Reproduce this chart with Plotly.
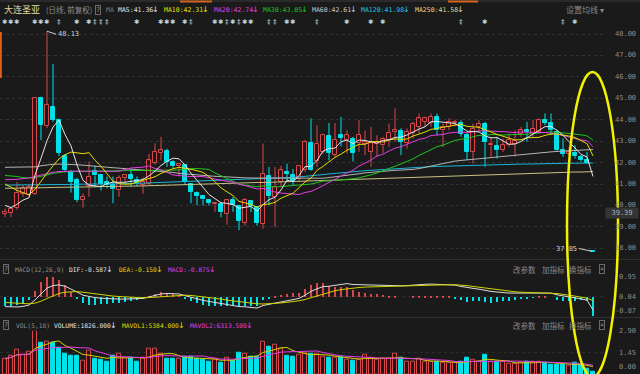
import plotly.graph_objects as go
import pandas as pd

W, H = 640, 374
BG = "#1a1a1a"
RED = "#d8474b"
CYAN = "#00e2ea"
C_MA5 = "#e4e4e4"
C_MA10 = "#e2dc00"
C_MA20 = "#e23ee2"
C_MA30 = "#1fc41f"
C_MA60 = "#b4b4b4"
C_MA120 = "#1ab4d8"
C_MA250 = "#c8c080"
MONO = "DejaVu Sans Mono"
CJK = "Noto Sans CJK SC"

# ---------------- data ----------------
opens = [39.60, 39.65, 39.90, 40.55, 40.50, 40.55, 45.00, 43.70, 44.60, 44.00,
         42.30, 41.55, 41.20, 40.25, 40.90, 41.60, 41.40, 41.10, 40.95, 40.70,
         41.30, 41.40, 41.20, 40.95, 41.00, 42.00, 42.47, 42.53, 42.03, 41.85,
         41.87, 40.99, 40.60, 40.43, 40.25, 40.05, 40.08, 39.58, 40.27, 39.96,
         39.18, 40.21, 39.93, 39.15, 41.36, 40.40, 41.10, 41.55, 41.41, 41.25,
         41.64, 42.93, 42.08, 42.50, 43.23, 42.35, 43.28, 43.05, 43.12, 42.90,
         42.85, 42.50, 42.88, 42.80, 43.05, 43.45, 43.48, 42.90, 43.38, 43.67,
         43.90, 43.86, 44.14, 43.50, 43.67, 43.85, 43.85, 43.28, 42.50, 43.67,
         43.82, 42.80, 42.76, 42.58, 42.80, 42.85, 43.35, 43.51, 43.35, 43.43,
         43.98, 43.85, 43.43, 42.58, 42.42, 42.45, 42.27, 42.14, 37.85]
highs = [39.85, 39.95, 41.10, 40.95, 41.00, 45.00, 45.07, 48.13, 46.60, 44.05,
         42.40, 41.65, 41.30, 40.55, 42.05, 41.85, 41.45, 41.35, 41.35, 41.40,
         41.40, 41.70, 41.35, 41.30, 42.40, 42.90, 43.20, 42.65, 42.10, 42.00,
         41.90, 41.00, 40.65, 40.45, 40.30, 40.15, 40.10, 40.30, 40.40, 39.98,
         40.35, 40.25, 39.95, 42.89, 41.80, 41.80, 41.85, 41.95, 41.70, 41.88,
         43.05, 44.06, 43.74, 43.35, 43.85, 43.85, 44.13, 43.50, 43.20, 43.98,
         43.50, 43.67, 43.28, 43.20, 43.82, 44.53, 43.60, 43.60, 43.90, 44.29,
         44.14, 44.29, 44.29, 43.82, 44.06, 44.00, 43.98, 43.43, 43.82, 43.98,
         43.90, 43.20, 43.20, 43.12, 43.36, 43.51, 43.67, 43.90, 43.98, 44.06,
         44.29, 44.29, 43.51, 43.12, 42.73, 42.81, 42.35, 42.50, 37.85]
lows = [39.45, 39.45, 39.80, 40.40, 40.40, 40.50, 43.05, 43.60, 43.90, 42.30,
        41.55, 40.60, 40.15, 39.90, 40.40, 40.85, 40.70, 40.80, 40.10, 40.40,
        41.00, 40.90, 40.90, 40.55, 40.95, 41.90, 42.10, 41.80, 41.75, 41.35,
        40.95, 40.10, 40.00, 40.00, 40.00, 39.70, 39.45, 39.10, 39.70, 38.85,
        39.05, 39.70, 39.05, 38.91, 40.00, 39.00, 40.85, 41.10, 40.95, 41.15,
        41.55, 41.62, 41.80, 42.40, 42.10, 42.25, 42.75, 42.42, 42.05, 42.50,
        42.35, 41.80, 42.27, 42.45, 42.73, 42.97, 42.35, 42.65, 43.12, 43.36,
        43.67, 43.67, 43.28, 42.73, 43.51, 43.70, 43.20, 42.11, 41.95, 43.51,
        41.80, 42.27, 42.19, 42.50, 42.73, 42.27, 43.20, 42.97, 43.20, 43.36,
        43.75, 43.28, 42.50, 42.27, 42.35, 42.19, 42.03, 41.95, 37.85]
closes = [39.70, 39.85, 40.60, 40.80, 40.85, 45.00, 43.75, 44.70, 44.00, 42.45,
          41.65, 41.10, 40.25, 40.40, 41.35, 41.40, 41.00, 40.95, 40.75, 41.30,
          41.40, 41.25, 41.05, 41.10, 42.10, 42.50, 42.57, 42.03, 41.83, 41.95,
          41.10, 40.63, 40.43, 40.28, 40.12, 40.12, 39.69, 40.27, 40.00, 39.27,
          40.27, 39.96, 39.18, 41.49, 40.43, 40.86, 41.64, 41.48, 41.14, 41.83,
          42.97, 41.67, 42.89, 43.31, 42.45, 43.05, 43.17, 43.28, 42.45, 43.30,
          42.95, 42.90, 42.95, 43.10, 43.40, 43.52, 42.97, 43.45, 43.82, 44.06,
          44.06, 44.14, 43.50, 43.67, 43.90, 43.90, 43.35, 42.50, 43.59, 43.82,
          42.97, 42.88, 42.58, 42.80, 43.05, 43.00, 43.50, 43.43, 43.59, 44.00,
          43.86, 43.51, 42.58, 42.42, 42.50, 42.30, 42.11, 41.99, 37.85]
volumes = [10500, 12300, 16500, 13200, 15000, 29000, 21200, 22000, 21200, 17800,
           13800, 12700, 12700, 9400, 16000, 10500, 9800, 8300, 12700, 13800,
           10900, 10900, 8300, 10900, 17200, 17200, 13800, 10500, 10500, 10500,
           12000, 11600, 10500, 9800, 8900, 10500, 7800, 10900, 9400, 14500,
           13800, 11600, 11600, 22000, 18300, 19800, 17200, 12300, 11600, 13200,
           14500, 13800, 13800, 11600, 10900, 10900, 11600, 9800, 9400, 9800,
           13200, 10900, 10000, 10500, 10500, 13800, 10900, 8300, 8900, 10500,
           8900, 8300, 8300, 7800, 7800, 7600, 8300, 10900, 9800, 8300,
           13200, 8300, 8300, 8300, 7100, 7100, 7800, 8900, 8300, 8600,
           8000, 6415, 6900, 6300, 6000, 8200, 6900, 3994, 1826]

# moving-average values shown before this window has enough days of its own
ma5_head = [40.00, 39.90, 40.05, 40.25]
ma10_head = [41.00, 40.85, 40.70, 40.60, 40.50, 40.75, 41.15, 41.50, 41.85]
ma20_head = [41.20, 41.20, 41.22, 41.25, 41.28, 41.35, 41.42, 41.50, 41.55, 41.58,
             41.60, 41.60, 41.60, 41.60, 41.60, 41.60, 41.60, 41.60, 41.60]
ma30_head = [41.40, 41.38, 41.35, 41.30, 41.28, 41.30, 41.35, 41.42, 41.50, 41.55,
             41.57, 41.58, 41.58, 41.59, 41.59, 41.60, 41.60, 41.61, 41.61, 41.62,
             41.62, 41.62, 41.63, 41.63, 41.64, 41.64, 41.65, 41.65, 41.65]
ma60 = [41.78, 41.78, 41.78, 41.78, 41.78, 41.80, 41.85, 41.90, 41.92, 41.93, 41.93,
        41.92, 41.90, 41.88, 41.85, 41.82, 41.80, 41.78, 41.76, 41.74, 41.72,
        41.70, 41.68, 41.66, 41.64, 41.62, 41.60, 41.57, 41.54, 41.50, 41.47,
        41.44, 41.42, 41.40, 41.38, 41.36, 41.34, 41.32, 41.30, 41.30, 41.29,
        41.28, 41.28, 41.27, 41.27, 41.26, 41.26, 41.25, 41.25, 41.25, 41.25,
        41.25, 41.25, 41.27, 41.30, 41.33, 41.37, 41.40, 41.44, 41.48, 41.52,
        41.55, 41.58, 41.60, 41.62, 41.64, 41.65, 41.66, 41.68, 41.72, 41.78,
        41.84, 41.90, 41.96, 42.02, 42.07, 42.10, 42.12, 42.14, 42.17, 42.20,
        42.23, 42.26, 42.29, 42.32, 42.35, 42.38, 42.41, 42.44, 42.46, 42.48,
        42.50, 42.52, 42.54, 42.56, 42.58, 42.60, 42.61, 42.61]
ma120 = [40.95, 40.95, 40.95, 40.96, 40.96, 40.96, 40.97, 40.97, 40.97, 40.98,
         40.98, 40.98, 40.99, 40.99, 40.99, 41.00, 41.00, 41.00, 41.01, 41.01,
         41.02, 41.02, 41.03, 41.04, 41.04, 41.05, 41.06, 41.07, 41.08, 41.09,
         41.10, 41.11, 41.12, 41.13, 41.14, 41.15, 41.16, 41.17, 41.18, 41.19,
         41.20, 41.21, 41.22, 41.23, 41.25, 41.26, 41.28, 41.29, 41.31, 41.33,
         41.35, 41.38, 41.41, 41.44, 41.47, 41.50, 41.53, 41.55, 41.58, 41.60,
         41.62, 41.64, 41.66, 41.68, 41.70, 41.72, 41.74, 41.76, 41.78, 41.79,
         41.80, 41.81, 41.82, 41.83, 41.84, 41.85, 41.86, 41.87, 41.88, 41.89,
         41.90, 41.90, 41.91, 41.91, 41.92, 41.92, 41.93, 41.93, 41.94, 41.94,
         41.95, 41.95, 41.96, 41.96, 41.97, 41.97, 41.97, 41.98, 41.98]
ma250 = [40.80, 40.80, 40.81, 40.81, 40.82, 40.82, 40.83, 40.83, 40.84, 40.84,
         40.85, 40.85, 40.86, 40.86, 40.87, 40.87, 40.88, 40.88, 40.89, 40.89,
         40.90, 40.90, 40.91, 40.91, 40.92, 40.93, 40.93, 40.94, 40.95, 40.96,
         40.97, 40.97, 40.98, 40.99, 41.00, 41.01, 41.02, 41.02, 41.03, 41.04,
         41.05, 41.06, 41.07, 41.07, 41.08, 41.09, 41.10, 41.11, 41.12, 41.13,
         41.14, 41.15, 41.16, 41.17, 41.18, 41.19, 41.20, 41.21, 41.22, 41.23,
         41.24, 41.25, 41.26, 41.27, 41.28, 41.29, 41.30, 41.31, 41.32, 41.33,
         41.34, 41.35, 41.36, 41.37, 41.38, 41.39, 41.40, 41.41, 41.42, 41.43,
         41.44, 41.45, 41.46, 41.47, 41.48, 41.49, 41.50, 41.51, 41.52, 41.53,
         41.53, 41.54, 41.54, 41.55, 41.55, 41.56, 41.56, 41.57, 41.58]
dif = [-0.43, -0.44, -0.45, -0.42, -0.36, -0.12, 0.18, 0.43, 0.55, 0.58,
       0.52, 0.40, 0.25, 0.10, 0.03, -0.01, -0.04, -0.06, -0.08, -0.08,
       -0.08, -0.08, -0.07, -0.05, 0.02, 0.10, 0.16, 0.18, 0.17, 0.16,
       0.08, 0.00, -0.08, -0.14, -0.19, -0.24, -0.29, -0.33, -0.38, -0.43,
       -0.44, -0.46, -0.50, -0.38, -0.32, -0.28, -0.20, -0.14, -0.10, -0.05,
       0.10, 0.28, 0.40, 0.50, 0.52, 0.55, 0.60, 0.64, 0.60, 0.59,
       0.58, 0.57, 0.57, 0.56, 0.56, 0.56, 0.54, 0.55, 0.58, 0.60,
       0.61, 0.62, 0.61, 0.60, 0.60, 0.57, 0.51, 0.45, 0.42, 0.38,
       0.32, 0.28, 0.25, 0.22, 0.20, 0.20, 0.20, 0.20, 0.21, 0.22,
       0.23, 0.20, 0.12, 0.06, 0.02, -0.02, -0.06, -0.13, -0.587]
dea = [-0.24, -0.25, -0.27, -0.28, -0.30, -0.27, -0.18, -0.05, 0.08, 0.18,
       0.24, 0.27, 0.27, 0.24, 0.20, 0.16, 0.12, 0.09, 0.06, 0.04,
       0.02, 0.00, -0.01, -0.02, -0.01, 0.01, 0.04, 0.07, 0.09, 0.10,
       0.10, 0.09, 0.06, 0.03, 0.00, -0.04, -0.08, -0.13, -0.17, -0.21,
       -0.24, -0.27, -0.30, -0.31, -0.30, -0.29, -0.26, -0.23, -0.20, -0.16,
       -0.10, -0.02, 0.07, 0.17, 0.25, 0.31, 0.36, 0.40, 0.43, 0.46,
       0.48, 0.49, 0.50, 0.51, 0.52, 0.53, 0.54, 0.55, 0.56, 0.57,
       0.58, 0.59, 0.59, 0.59, 0.59, 0.59, 0.58, 0.55, 0.51, 0.47,
       0.43, 0.40, 0.36, 0.31, 0.28, 0.26, 0.24, 0.23, 0.22, 0.21,
       0.20, 0.20, 0.18, 0.14, 0.11, 0.06, 0.01, -0.04, -0.150]

price_ticks = [38, 39, 40, 41, 42, 43, 44, 45, 46, 47, 48]
star_idx = [0, 1, 2, 5, 6, 7, 12, 14, 22, 26, 27, 28, 30, 35, 36, 38, 40, 41, 47, 48, 57, 61, 63, 80, 95]
dagger_idx = [9, 15, 16, 17, 31, 37, 39, 44, 45, 52, 76, 93]

# ---------------- derived ----------------
n = len(closes)
xs = list(range(n))
up = []
for i in range(n):
    if closes[i] > opens[i]:
        up.append(True)
    elif closes[i] < opens[i]:
        up.append(False)
    else:
        up.append(i == 0 or closes[i] >= closes[i - 1])

cs = pd.Series(closes)


def moving(win, head):
    r = cs.rolling(win).mean().tolist()
    return list(head) + r[len(head):]


ma5 = moving(5, ma5_head)
ma10 = moving(10, ma10_head)
ma20 = moving(20, ma20_head)
ma30 = moving(30, ma30_head)
hist = [2 * (d - e) for d, e in zip(dif, dea)]
vol_w = [v / 10000 for v in volumes]
vs = pd.Series(vol_w)
mavol1 = vs.rolling(5, min_periods=1).mean().tolist()
mavol2 = vs.rolling(10, min_periods=1).mean().tolist()


def px(v):
    return v / W


def py(v):
    return 1 - v / H


X0 = -5 / 6
X1 = X0 + 606 / 6
XD = [0, 606 / W]

fig = go.Figure()

# wicks (split so they do not cross hollow bodies)
for flag, col in ((True, RED), (False, CYAN)):
    wx, wy = [], []
    for i in range(n):
        if up[i] != flag:
            continue
        top = max(opens[i], closes[i])
        bot = min(opens[i], closes[i])
        if highs[i] > top:
            wx += [i, i, None]
            wy += [top, highs[i], None]
        if lows[i] < bot:
            wx += [i, i, None]
            wy += [lows[i], bot, None]
    fig.add_trace(go.Scatter(x=wx, y=wy, mode="lines", line=dict(color=col, width=1),
                             xaxis="x", yaxis="y", hoverinfo="skip"))

base = [min(o, c) for o, c in zip(opens, closes)]
hgt = [max(abs(c - o), 0.025) for o, c in zip(opens, closes)]
fill = [BG if u else CYAN for u in up]
edge = [RED if u else CYAN for u in up]
fig.add_trace(go.Bar(x=xs, y=hgt, base=base, width=0.72,
                     marker=dict(color=fill, line=dict(color=edge, width=1)),
                     xaxis="x", yaxis="y", hoverinfo="skip"))

for vals, col in ((ma250, C_MA250), (ma120, C_MA120), (ma60, C_MA60), (ma30, C_MA30),
                  (ma20, C_MA20), (ma10, C_MA10), (ma5, C_MA5)):
    fig.add_trace(go.Scatter(x=xs, y=vals, mode="lines", line=dict(color=col, width=1),
                             xaxis="x", yaxis="y", hoverinfo="skip"))

# MACD
fig.add_trace(go.Bar(x=xs, y=hist, width=0.17,
                     marker=dict(color=[RED if h >= 0 else CYAN for h in hist], line=dict(width=0)),
                     xaxis="x2", yaxis="y2", hoverinfo="skip"))
fig.add_trace(go.Scatter(x=xs, y=dif, mode="lines", line=dict(color="#dcdcdc", width=1),
                         xaxis="x2", yaxis="y2", hoverinfo="skip"))
fig.add_trace(go.Scatter(x=xs, y=dea, mode="lines", line=dict(color="#d2d200", width=1),
                         xaxis="x2", yaxis="y2", hoverinfo="skip"))

# VOL
fig.add_trace(go.Bar(x=xs, y=vol_w, width=0.8,
                     marker=dict(color=fill, line=dict(color=edge, width=1)),
                     xaxis="x3", yaxis="y3", hoverinfo="skip"))
fig.add_trace(go.Scatter(x=xs, y=mavol1, mode="lines", line=dict(color="#d2d200", width=1),
                         xaxis="x3", yaxis="y3", hoverinfo="skip"))
fig.add_trace(go.Scatter(x=xs, y=mavol2, mode="lines", line=dict(color=C_MA20, width=1),
                         xaxis="x3", yaxis="y3", hoverinfo="skip"))

ann = []


def txt(x, y, s, color, size=7, family=MONO, anchor="left", xref="paper", yref="paper", **kw):
    ann.append(dict(x=x, y=y, xref=xref, yref=yref, text=s, showarrow=False,
                    xanchor=anchor, yanchor="middle",
                    font=dict(color=color, size=size, family=family), **kw))


def item_row(y, entries, size):
    # text followed by a small coloured down-arrow
    for s, x0, col in entries:
        txt(px(x0), y, s, col, size)
        xa = x0 + len(s) * 0.602 * size + 4.5
        txt(px(xa), y, "↓", col, 8, "DejaVu Sans", anchor="center")


# main header
hy = py(10)
txt(px(2), hy, "大连圣亚", "#e4d9a2", 9, CJK)
txt(px(44), hy, "(日线, 前复权)", "#8e8e8e", 7.5, CJK)
txt(px(95), hy, "?", "#9a9a9a", 7, MONO, bordercolor="#6a6a6a", borderwidth=1, borderpad=0)
txt(px(104), hy, "MA", "#7a7a7a", 6.5)
item_row(hy, [("MA5:41.36", 116, C_MA5), ("MA10:42.31", 162, "#e8e000"),
              ("MA20:42.74", 212, C_MA20), ("MA30:43.05", 261, C_MA30),
              ("MA60:42.61", 310, "#c8c8c8"), ("MA120:41.98", 359, "#22c0ea"),
              ("MA250:41.58", 413, "#e2d88c")], 6.5)
txt(px(564), hy, "设置均线 ▾", "#8a8a8a", 8, CJK)

# event markers row
for i in star_idx:
    txt(i, py(22), "✱", "#d0d0d0", 6.5, "DejaVu Sans", anchor="center", xref="x")
for i in dagger_idx:
    txt(i, py(22), "‡", "#d0d0d0", 7, "DejaVu Sans", anchor="center", xref="x")

# price axis labels
for t in price_ticks:
    txt(px(638), t, f"{t:.2f}", "#8c8c8c", 7, anchor="right", yref="y")

# highlighted value box
ann.append(dict(x=px(639), y=py(213), xref="paper", yref="paper", text="39.39", showarrow=False,
                xanchor="right", yanchor="middle", bgcolor="#343434", borderpad=1,
                font=dict(color="#b0b0b0", size=7, family=MONO), width=30))

# high / low markers
ann.append(dict(x=7, y=48.13, xref="x", yref="y", text="48.13", showarrow=True, arrowhead=0,
                arrowwidth=1, arrowcolor="#cfcfcf", ax=9, ay=3, xanchor="left", yanchor="middle",
                standoff=0, font=dict(color="#cfcfcf", size=7, family=MONO)))
ann.append(dict(x=98, y=37.85, xref="x", yref="y", text="37.85", showarrow=True, arrowhead=0,
                arrowwidth=1, arrowcolor="#cfcfcf", ax=-14, ay=-3, xanchor="right", yanchor="middle",
                standoff=1, font=dict(color="#cfcfcf", size=7, family=MONO)))

# MACD header
my = py(269)
txt(px(3), my, "?", "#9a9a9a", 7, MONO, bordercolor="#6a6a6a", borderwidth=1, borderpad=0)
txt(px(13), my, "MACD(12,26,9)", "#8e8e8e", 6.3)
item_row(my, [("DIF:-0.587", 67, "#e4e4e4"), ("DEA:-0.150", 117, "#e2dc00"),
              ("MACD:-0.875", 166, C_MA20)], 6.3)

# VOL header
vy = py(325)
txt(px(3), vy, "?", "#9a9a9a", 7, MONO, bordercolor="#6a6a6a", borderwidth=1, borderpad=0)
txt(px(14), vy, "VOL(5,10)", "#8e8e8e", 6.3)
item_row(vy, [("VOLUME:1826.000", 52, "#e4e4e4"), ("MAVOL1:5384.000", 120, "#e2dc00"),
              ("MAVOL2:6313.500", 188, C_MA20)], 6.3)

for yy in (my, vy):
    txt(px(511), yy, "改参数", "#8a8a8a", 7.5, CJK)
    txt(px(540), yy, "加指标", "#8a8a8a", 7.5, CJK)
    txt(px(567), yy, "换指标", "#8a8a8a", 7.5, CJK)
    txt(px(601.5), yy, "×", "#8a8a8a", 7, MONO, anchor="center", bordercolor="#6a6a6a",
        borderwidth=1, borderpad=0)

# MACD / VOL axis labels
txt(px(638), 0.95, "0.95", "#8c8c8c", 7, anchor="right", yref="y2")
txt(px(638), 0.04, "0.04", "#8c8c8c", 7, anchor="right", yref="y2")
txt(px(638), py(311), "-0.87", "#8c8c8c", 7, anchor="right")
txt(px(638), 2.90, "2.90", "#8c8c8c", 7, anchor="right", yref="y3")
txt(px(638), 1.45, "1.45", "#8c8c8c", 7, anchor="right", yref="y3")
txt(px(638), py(367), "0.00", "#8c8c8c", 7, anchor="right")

shapes = [
    dict(type="line", xref="paper", yref="paper", x0=0, x1=1, y0=py(259.5), y1=py(259.5),
         line=dict(color="#303030", width=1)),
    dict(type="line", xref="paper", yref="paper", x0=0, x1=1, y0=py(317.5), y1=py(317.5),
         line=dict(color="#303030", width=1)),
    dict(type="line", xref="paper", yref="paper", x0=0, x1=1, y0=py(1), y1=py(1),
         line=dict(color="#3a3a3a", width=1)),
    dict(type="line", xref="paper", yref="paper", x0=px(180), x1=px(212), y0=py(1.5), y1=py(1.5),
         line=dict(color="#d4641e", width=2)),
    dict(type="line", xref="paper", yref="paper", x0=px(448), x1=px(478), y0=py(1.5), y1=py(1.5),
         line=dict(color="#d4641e", width=2)),
    dict(type="line", xref="paper", yref="paper", x0=px(0.8), x1=px(0.8), y0=py(32), y1=py(78),
         line=dict(color="#e0601e", width=2)),
    dict(type="circle", xref="paper", yref="paper", x0=px(567), x1=px(618), y0=py(377), y1=py(72),
         line=dict(color="#f2f200", width=2.5)),
]

axis_common = dict(range=[X0, X1], domain=XD, visible=False, fixedrange=True)
fig.update_layout(
    width=W, height=H, margin=dict(l=0, r=0, t=0, b=0),
    paper_bgcolor=BG, plot_bgcolor=BG, showlegend=False, hovermode=False,
    xaxis=dict(anchor="y", **axis_common),
    xaxis2=dict(anchor="y2", **axis_common),
    xaxis3=dict(anchor="y3", **axis_common),
    yaxis=dict(anchor="x", domain=[py(258), py(28)], range=[37.547, 48.28], tickvals=price_ticks,
               showticklabels=False, ticks="", showgrid=True, gridcolor="#333333", griddash="dot",
               zeroline=False, showline=False, fixedrange=True),
    yaxis2=dict(anchor="x2", domain=[py(316), py(277)], range=[-0.87, 0.95], tickvals=[0.95, 0.04],
                showticklabels=False, ticks="", showgrid=True, gridcolor="#2c2c2c", griddash="dot",
                zeroline=False, showline=False, fixedrange=True),
    yaxis3=dict(anchor="x3", domain=[0, py(330.7)], range=[0.046, 2.90], tickvals=[1.45, 2.90],
                showticklabels=False, ticks="", showgrid=True, gridcolor="#2c2c2c", griddash="dot",
                zeroline=False, showline=False, fixedrange=True),
    annotations=ann, shapes=shapes, bargap=0,
)

fig.write_html("out.html", config={"displayModeBar": False},
               post_script="document.body.style.margin='0';document.body.style.padding='0';"
                           "document.body.style.overflow='hidden';")
